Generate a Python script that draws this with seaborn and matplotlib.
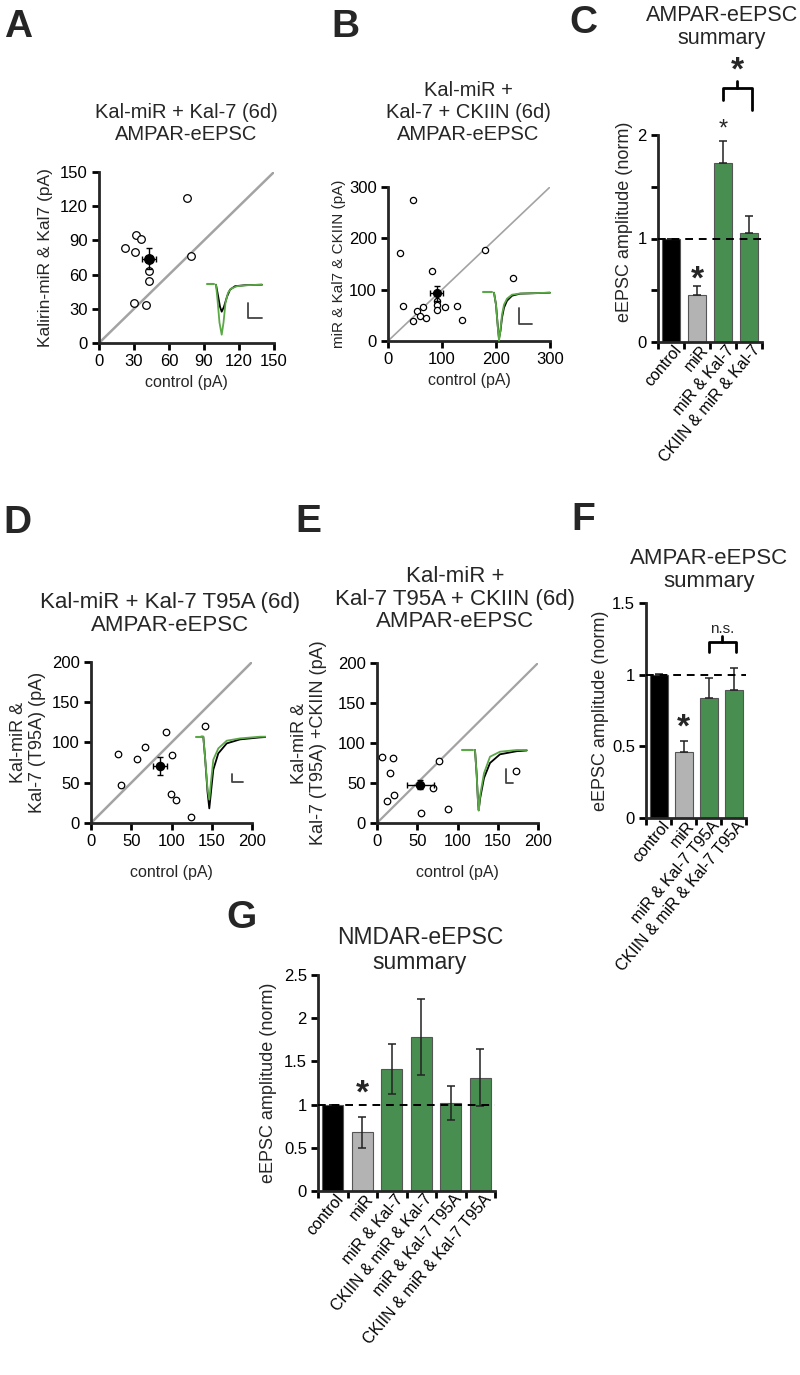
import numpy as np
import matplotlib
matplotlib.use("Agg")
import matplotlib.pyplot as plt
import matplotlib.transforms as mtrans
import seaborn as sns

sns.set_style("ticks")
plt.rcParams['font.family'] = ['Liberation Sans', 'DejaVu Sans']
plt.rcParams['axes.linewidth'] = 2
plt.rcParams['xtick.major.width'] = 2
plt.rcParams['ytick.major.width'] = 2
plt.rcParams['xtick.minor.width'] = 2
plt.rcParams['xtick.major.size'] = 5
plt.rcParams['ytick.major.size'] = 5
plt.rcParams['xtick.color'] = 'black'
plt.rcParams['ytick.color'] = 'black'

# ---- scatter data (control vs experimental, pA) ----
a_ctrl = [75, 22, 32, 36, 31, 79, 43, 43, 30, 40]
a_exp = [127, 83, 95, 91, 80, 76, 63, 54, 35, 33]
a_mean = [43, 74]
a_sem = [6, 9]

b_ctrl = [47, 22.6, 180, 82, 232, 27, 65, 54, 58.5, 46, 71, 90, 90, 90, 105, 127, 137]
b_exp = [274, 172, 177, 136, 122.6, 69, 67, 58, 49, 39, 44, 77, 71, 61, 66, 68, 41]
b_mean = [90, 93]
b_sem = [12, 15]

d_ctrl = [34, 37, 57, 67.5, 93, 100, 142, 99, 105, 124]
d_exp = [86, 47, 79, 95, 113, 85, 120, 36, 28, 7]
d_mean = [86, 71]
d_sem = [8.5, 11]

e_ctrl = [6, 20, 16, 12, 21, 77, 69, 55, 88, 173]
e_exp = [82, 81, 62, 27.5, 35, 78, 44, 12, 17, 65]
e_mean = [54, 48]
e_sem = [17, 6]

# ---- example traces (time, current; relative units) ----
a_art_t, a_art_v = [0, 7], [0.5, 0.5]
a_t_ctrl = [9, 10.5, 13, 14.7, 17, 20, 23, 28, 38, 55]
a_v_ctrl = [0, -8, -22, -27, -22, -12, -5, -1.5, -0.5, 0]
a_t_exp = [9, 10.5, 12.5, 14.7, 16.5, 18.5, 21, 24, 30, 40, 55]
a_v_exp = [0, -15, -38, -50, -38, -18, -8, -4, -1.5, -0.5, 0]
a_bar_t, a_bar_v = [41, 41, 55], [-18, -33, -33]

b_art_t, b_art_v = [0, 8.7], [0.4, 0.4]
b_t = [11, 13, 15, 16, 17.5, 19, 21, 24, 29, 37, 67]
b_v_ctrl = [0, -12, -36, -46, -38, -25, -15, -8, -3, -1, 0]
b_v_exp = [0, -12, -37, -48, -37, -22, -12, -6, -2, -0.8, 0]
b_bar_t, b_bar_v = [36.3, 36.3, 48.7], [-15.6, -31.3, -31.3]

d_art_t, d_art_v = [0, 5], [0, 0]
d_t = [5, 7.3, 9, 11.5, 13.3, 15, 17.3, 22.3, 30.7, 44, 64, 70]
d_v_ctrl = [0, 0, -20, -55, -71.7, -55, -33, -16.7, -6.7, -2.7, -0.7, -0.3]
d_v_exp = [0, 0, -20, -52, -63, -45, -23, -11.7, -4, -1.7, 0, 0]
d_bar_t, d_bar_v = [36.3, 36.3, 47.3], [-37.3, -45, -45]

e_art_t, e_art_v = [0, 11.6], [0.3, 0.3]
e_t = [13.3, 15, 16.3, 17, 18.5, 22.3, 28.3, 38.3, 55, 65]
e_v_ctrl = [0, -25, -52, -60, -48, -28, -13, -4.3, -1.2, -0.5]
e_v_exp = [0, -25, -52, -60.7, -45, -23.3, -6.7, -1.7, 0, 0]
e_bar_t, e_bar_v = [44, 44, 51.6], [-19.3, -33.3, -33.3]

# ---- summary bar data (normalised amplitude) ----
c_labels = ["control", "miR", "miR & Kal-7", "CKIIN & miR & Kal-7"]
c_vals = [1.0, 0.45, 1.73, 1.05]
c_errs = [0.0, 0.09, 0.21, 0.17]

f_labels = ["control", "miR", "miR & Kal-7 T95A", "CKIIN & miR & Kal-7 T95A"]
f_vals = [1.0, 0.46, 0.84, 0.89]
f_errs = [0.005, 0.08, 0.14, 0.16]

g_labels = ["control", "miR", "miR & Kal-7", "CKIIN & miR & Kal-7",
            "miR & Kal-7 T95A", "CKIIN & miR & Kal-7 T95A"]
g_vals = [1.0, 0.68, 1.41, 1.78, 1.02, 1.31]
g_errs = [0.0, 0.18, 0.29, 0.44, 0.20, 0.33]

BLACK = "#000000"
GREY = "#b3b3b3"
GREEN = "#3d9a48"
TRACE_GREEN = "#5aa846"

W, H = 800, 1375
fig = plt.figure(figsize=(W / 100, H / 100), dpi=100)


def px_axes(x0, y0, x1, y1):
    return fig.add_axes([x0 / W, 1 - y1 / H, (x1 - x0) / W, (y1 - y0) / H])


def ftext(x, y, s, **kw):
    fig.text(x / W, 1 - y / H, s, **kw)


def scatter_panel(rect, ctrl, exp, mean, sem, lim, step, s, diag_lw, ylab, ylab_size, ylab_x):
    ax = px_axes(*rect)
    ax.plot([0, lim], [0, lim], color="#a3a3a3", lw=diag_lw, zorder=1)
    sns.scatterplot(x=ctrl, y=exp, ax=ax, s=s, color="white", edgecolor="black",
                    linewidth=0.9, zorder=3, clip_on=False)
    ax.errorbar(mean[0], mean[1], xerr=sem[0], yerr=sem[1], fmt="o", color="black",
                ms=np.sqrt(s) * 1.25, elinewidth=1.0, capsize=2.5, capthick=1.0, zorder=4)
    ax.set_xlim(0, lim)
    ax.set_ylim(0, lim)
    ticks = np.arange(0, lim + 1, step)
    ax.set_xticks(ticks)
    ax.set_yticks(ticks)
    ax.tick_params(labelsize=12, pad=3)
    sns.despine(ax=ax)
    ax.set_xlabel("control (pA)", fontsize=11.5)
    ax.set_ylabel(ylab, fontsize=ylab_size, linespacing=1.15)
    ax.yaxis.set_label_coords(ylab_x, 0.5)
    return ax


def inset(rect, xlim, ylim, art, t_ctrl, v_ctrl, t_exp, v_exp, bar):
    ax = px_axes(*rect)
    ax.set_xlim(*xlim)
    ax.set_ylim(*ylim)
    ax.axis("off")
    ax.patch.set_alpha(0)
    ax.plot(t_ctrl, v_ctrl, color="black", lw=1.3)
    ax.plot(t_exp, v_exp, color=TRACE_GREEN, lw=1.3)
    ax.plot(art[0], art[1], color=TRACE_GREEN, lw=1.5)
    ax.plot(bar[0], bar[1], color="#444444", lw=1.3)


def bar_panel(rect, labels, vals, errs, ymax, yticks, yticklabels, two_sided, ylab_y=0.5, ylab_x=-0.3):
    ax = px_axes(*rect)
    n = len(labels)
    colors = [BLACK, GREY] + [GREEN] * (n - 2)
    sns.barplot(x=labels, y=vals, hue=labels, palette=colors, width=0.72,
                edgecolor="#555555", linewidth=0.8, legend=False, errorbar=None,
                ax=ax, zorder=2)
    pos = np.arange(n)
    lower = errs if two_sided else [0] * n
    ax.errorbar(pos, vals, yerr=[lower, errs], fmt="none", ecolor="#222222",
                elinewidth=1.1, capsize=3, capthick=1.1, zorder=3)
    ax.axhline(1, color="black", ls=(0, (4, 3)), lw=1.4, zorder=4)
    ax.set_xlim(-0.5, n - 0.5)
    ax.set_ylim(0, ymax)
    ax.set_yticks(yticks)
    ax.set_yticklabels(yticklabels)
    ax.set_xticks(np.arange(-0.5, n), minor=True)
    ax.tick_params(axis="x", which="major", length=0, labelsize=11.5, pad=4)
    ax.tick_params(axis="x", which="minor", length=5)
    ax.tick_params(axis="y", labelsize=12, pad=3)
    off = mtrans.ScaledTranslation(6 / 72, 0, fig.dpi_scale_trans)
    for lab in ax.get_xticklabels():
        lab.set_rotation(50)
        lab.set_ha("right")
        lab.set_va("center")
        lab.set_rotation_mode("anchor")
        lab.set_transform(lab.get_transform() + off)
    sns.despine(ax=ax)
    ax.set_xlabel("")
    ax.set_ylabel("eEPSC amplitude (norm)", fontsize=13)
    ax.yaxis.set_label_coords(ylab_x, ylab_y)
    return ax


# ---- A ----
axA = scatter_panel((99, 172, 274, 343), a_ctrl, a_exp, a_mean, a_sem, 150, 30, 30, 1.8,
                    "Kalirin-miR & Kal7 (pA)", 12.5, -0.26)
inset((200, 275, 270, 345), (-7, 63), (-60.3, 9.7), (a_art_t, a_art_v),
      a_t_ctrl, a_v_ctrl, a_t_exp, a_v_exp, (a_bar_t, a_bar_v))
ftext(186, 124, "Kal-miR + Kal-7 (6d)\nAMPAR-eEPSC", ha="center", va="center",
      fontsize=14.5, linespacing=1.2)

# ---- B ----
axB = scatter_panel((388, 187, 550, 341), b_ctrl, b_exp, b_mean, b_sem, 300, 100, 20, 1.2,
                    "miR & Kal7 & CKIIN (pA)", 11, -0.26)
inset((476, 282, 556, 347), (-7, 73), (-54.3, 10.7), (b_art_t, b_art_v),
      b_t, b_v_ctrl, b_t, b_v_exp, (b_bar_t, b_bar_v))
ftext(468, 113, "Kal-miR +\nKal-7 + CKIIN (6d)\nAMPAR-eEPSC", ha="center", va="center",
      fontsize=14.5, linespacing=1.2)

# ---- C ----
axC = bar_panel((658, 135, 762, 342), c_labels, c_vals, c_errs, 2,
                [0, 0.5, 1, 1.5, 2], ["0", "", "1", "", "2"], False, ylab_y=0.58, ylab_x=-0.24)
axC.plot([2.0, 2.0, 3.1, 3.1], [2.34, 2.45, 2.45, 2.24], color="black", lw=2, clip_on=False)
axC.plot([2.55, 2.55], [2.45, 2.52], color="black", lw=2, clip_on=False)
axC.text(2.55, 2.62, "*", ha="center", va="center", fontsize=24, fontweight="bold")
axC.text(2, 2.05, "*", ha="center", va="center", fontsize=17)
axC.text(1, 0.6, "*", ha="center", va="center", fontsize=24, fontweight="bold")
ftext(722, 27, "AMPAR-eEPSC\nsummary", ha="center", va="center", fontsize=15.5, linespacing=1.15)

# ---- D ----
axD = scatter_panel((91, 662, 252, 823), d_ctrl, d_exp, d_mean, d_sem, 200, 50, 22, 1.8,
                    "Kal-miR &\nKal-7 (T95A) (pA)", 13, -0.28)
inset((190, 726, 266, 816), (-6, 70), (-79.3, 10.7), (d_art_t, d_art_v),
      d_t, d_v_ctrl, d_t, d_v_exp, (d_bar_t, d_bar_v))
axD.xaxis.set_label_coords(0.5, -0.26)
ftext(170, 614, "Kal-miR + Kal-7 T95A (6d)\nAMPAR-eEPSC", ha="center", va="center",
      fontsize=16, linespacing=1.1)

# ---- E ----
axE = scatter_panel((377, 663, 538, 823), e_ctrl, e_exp, e_mean, e_sem, 200, 50, 22, 1.6,
                    "Kal-miR &\nKal-7 (T95A) +CKIIN (pA)", 13, -0.31)
inset((455, 740, 531, 816), (-6.7, 69.3), (-66, 10), (e_art_t, e_art_v),
      e_t, e_v_ctrl, e_t, e_v_exp, (e_bar_t, e_bar_v))
axE.xaxis.set_label_coords(0.5, -0.26)
ftext(455, 599, "Kal-miR +\nKal-7 T95A + CKIIN (6d)\nAMPAR-eEPSC", ha="center", va="center",
      fontsize=16, linespacing=1.1)

# ---- F ----
axF = bar_panel((646, 603, 746, 818), f_labels, f_vals, f_errs, 1.5,
                [0, 0.5, 1, 1.5], ["0", "0.5", "1", "1.5"], False, ylab_x=-0.37)
axF.plot([2.0, 2.0, 3.1, 3.1], [1.16, 1.23, 1.23, 1.16], color="black", lw=2, clip_on=False)
axF.plot([2.55, 2.55], [1.23, 1.27], color="black", lw=2, clip_on=False)
axF.text(2.55, 1.32, "n.s.", ha="center", va="center", fontsize=11)
axF.text(1, 0.63, "*", ha="center", va="center", fontsize=24, fontweight="bold")
ftext(709, 570, "AMPAR-eEPSC\nsummary", ha="center", va="center", fontsize=16, linespacing=1.1)

# ---- G ----
axG = bar_panel((318, 975, 495, 1191), g_labels, g_vals, g_errs, 2.5,
                [0, 0.5, 1, 1.5, 2, 2.5], ["0", "0.5", "1", "1.5", "2", "2.5"], True,
                ylab_x=-0.23)
axG.text(1, 1.12, "*", ha="center", va="center", fontsize=24, fontweight="bold")
ftext(420, 950, "NMDAR-eEPSC\nsummary", ha="center", va="center", fontsize=16.5, linespacing=1.1)

# ---- panel letters ----
for letter, x, y in [("A", 18, 27), ("B", 345, 27), ("C", 583, 23), ("D", 17, 523),
                     ("E", 308, 522), ("F", 583, 520), ("G", 241, 918)]:
    ftext(x, y, letter, ha="center", va="center", fontsize=28, fontweight="bold")

fig.savefig("out.png", dpi=100)
